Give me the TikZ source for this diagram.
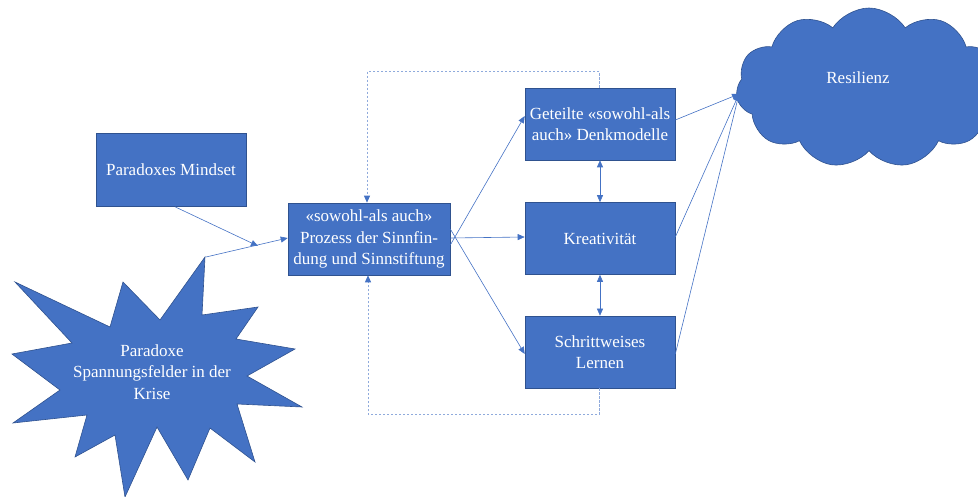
\documentclass[tikz,border=0pt]{standalone}
\usepackage{fontspec}
\setmainfont{Liberation Serif}
\usetikzlibrary{arrows.meta,shapes.symbols}
\definecolor{obl}{HTML}{4472C4}
\definecolor{obd}{HTML}{2F528F}
\definecolor{dashc}{HTML}{8FAADC}
\begin{document}
\begin{tikzpicture}[x=1pt,y=-1pt,
  box/.style={draw=obd,line width=0.6pt,fill=obl,text=white,align=center,inner sep=0pt,
    font=\rmfamily\fontsize{17}{21.5}\selectfont},
  con/.style={draw=obl,line width=0.6pt,-{Triangle[length=7pt,width=6pt]}},
  dcon/.style={draw=obl,line width=0.6pt,{Triangle[length=7pt,width=6pt]}-{Triangle[length=7pt,width=6pt]}},
  fb/.style={draw=dashc,line width=0.8pt,dash pattern=on 2.5pt off 1.5pt,-{Triangle[length=7pt,width=6pt,color=obl]}}]
\useasboundingbox (0,0) rectangle (978,497);
\clip (0,0) rectangle (978,497);
% nodes
\node[box,minimum width=150,minimum height=73] (pm) at (171,170) {Paradoxes Mindset};
\node[box,minimum width=162,minimum height=72] (pz) at (369,239) {«sowohl-als auch»\\Prozess der Sinnfin-\\dung und Sinnstiftung};
\node[box,minimum width=150,minimum height=72] (gd) at (600,124) {Geteilte «sowohl-als\\auch» Denkmodelle};
\node[box,minimum width=150,minimum height=72] (kr) at (600,238.5) {Kreativität};
\node[box,minimum width=150,minimum height=72] (sl) at (600,352) {Schrittweises\\Lernen};
% star
\filldraw[draw=obd,fill=obl,line width=0.6pt]
 (15,282) -- (110,327) -- (123,282) -- (160,320) -- (205,257) -- (202,315) -- (258,307)
 -- (236,339) -- (295,349) -- (247,376) -- (302,407) -- (237,404) -- (255,462) -- (210,428)
 -- (188,480) -- (157,427) -- (125,497) -- (115,435) -- (75,457) -- (87,415) -- (13,423)
 -- (60,390) -- (12,354) -- (72,343) -- cycle;
\node[box,draw=none,fill=none] (st) at (152,372) {Paradoxe\\Spannungsfelder in der\\Krise};
\coordinate (sttip) at (206,257);
% cloud
\node[cloud,cloud puffs=11,cloud puff arc=115,aspect=1.65,draw=obd,fill=obl,line width=0.6pt,
  minimum width=266,minimum height=160,inner sep=0pt] (rs) at (869,88) {};
\node[box,draw=none,fill=none] (rst) at (858,78) {Resilienz};
% connectors
\coordinate (mid) at (258,246);
\draw[con] ([xshift=4]pm.south) -- (mid);
\draw[con] (sttip) -- ([yshift=1]pz.west);
\draw[con] ([yshift=-6]pz.east) -- ([yshift=8]gd.west);
\draw[con] ([yshift=1]pz.east) -- ([yshift=1.5]kr.west);
\draw[con] ([yshift=10]pz.east) -- ([yshift=-2]sl.west);
\draw[dcon] (gd.south) -- (kr.north);
\draw[dcon] (kr.south) -- (sl.north);
\coordinate (cin) at (739,94);
\draw[con] ([yshift=4]gd.east) -- (cin);
\draw[con] ([yshift=1.5]kr.east) -- (cin);
\draw[con] ([yshift=-2]sl.east) -- (cin);
% feedback dashed
\draw[fb] ([xshift=-1]gd.north) -- ++(0,-16) -| ([xshift=-2]pz.north);
\draw[fb] ([xshift=-1]sl.south) -- ++(0,26) -| ([xshift=-1]pz.south);
\end{tikzpicture}
\end{document}
